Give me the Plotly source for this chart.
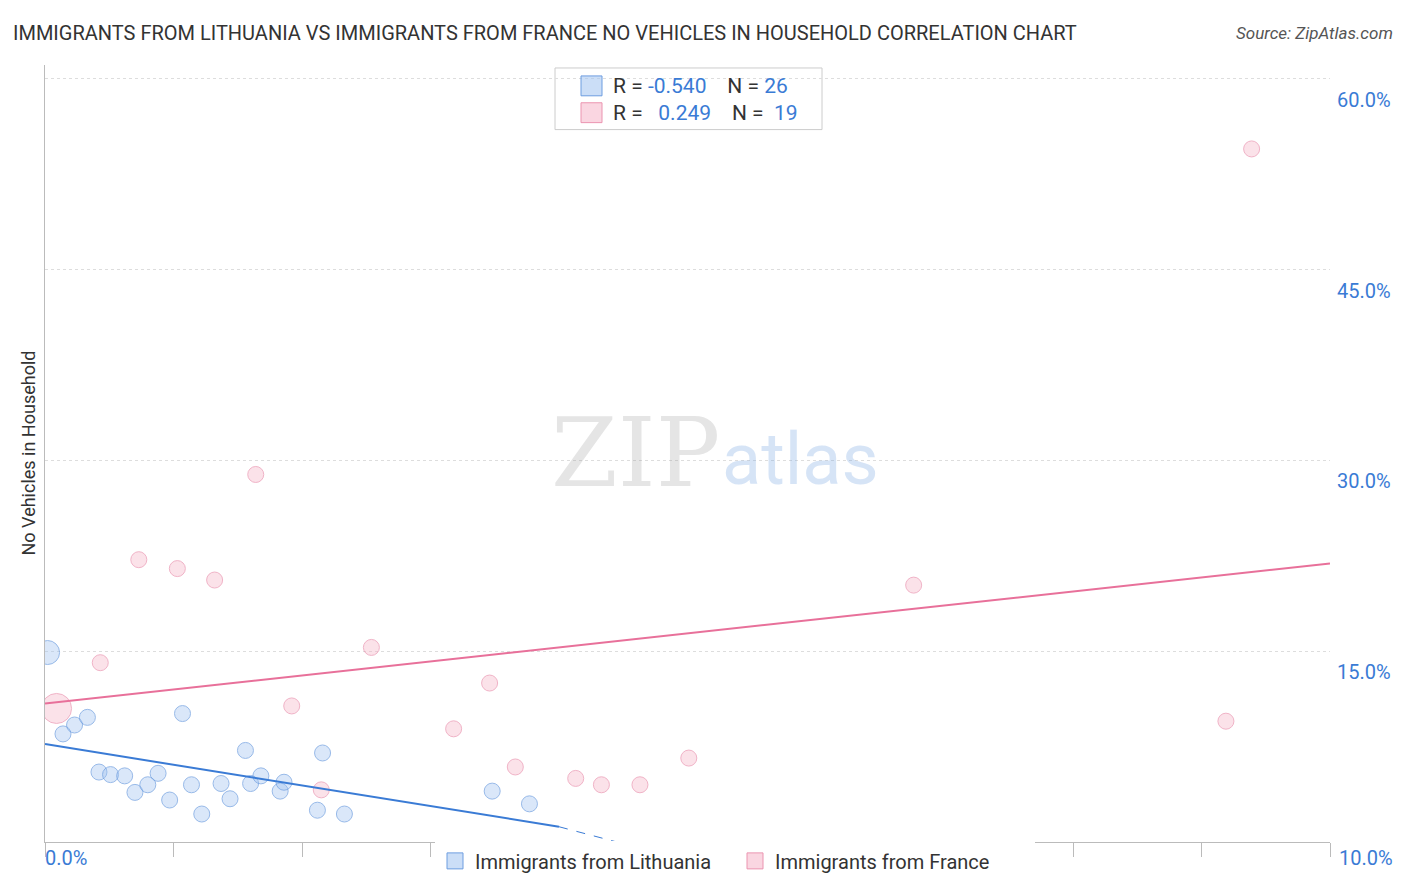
import plotly.graph_objects as go

# Immigrants from Lithuania (x: %, y: %)
lith_x = [0.02, 0.14, 0.23, 0.33, 0.42, 0.51, 0.62, 0.70, 0.80, 0.88, 0.97, 1.07, 1.14,
          1.22, 1.37, 1.44, 1.56, 1.60, 1.68, 1.83, 1.86, 2.12, 2.16, 2.33, 3.48, 3.77]
lith_y = [14.9, 8.5, 9.2, 9.8, 5.5, 5.3, 5.2, 3.9, 4.5, 5.4, 3.3, 10.1, 4.5,
          2.2, 4.6, 3.4, 7.2, 4.6, 5.2, 4.0, 4.7, 2.5, 7.0, 2.2, 4.0, 3.0]
lith_s = [24] + [16] * 25

# Immigrants from France
fr_x = [0.09, 0.43, 0.73, 1.03, 1.32, 1.64, 1.92, 2.15, 2.54, 3.18, 3.46, 3.66, 4.13,
        4.33, 4.63, 5.01, 6.76, 9.19, 9.39]
fr_y = [10.5, 14.1, 22.2, 21.5, 20.6, 28.9, 10.7, 4.1, 15.3, 8.9, 12.5, 5.9, 5.0,
        4.5, 4.5, 6.6, 20.2, 9.5, 54.5]
fr_s = [30] + [16] * 18

# trend lines
lith_line_x = [0.0, 4.0]
lith_line_y = [7.7, 1.2]
lith_dash_x = [4.0, 4.45]
lith_dash_y = [1.2, 0.0]
fr_line_x = [0.0, 10.0]
fr_line_y = [10.9, 21.9]

y_ticks = [15, 30, 45, 60]

BLUE = "#3a7bd5"
PINK = "#e8709a"
B_FILL, B_LINE = "rgba(160,195,240,0.55)", "#6d9de0"
P_FILL, P_LINE = "rgba(246,180,200,0.55)", "#eb94b0"

# plot area in page pixels (page has 8px body margin)
PX0, PX1, PY0, PY1 = 45, 1330, 65, 847


def px(x):
    return (x - PX0) / (PX1 - PX0)


def py(y):
    return (PY1 - y) / (PY1 - PY0)


fig = go.Figure()
fig.add_trace(go.Scatter(x=lith_x, y=lith_y, mode="markers", showlegend=False,
                         marker=dict(size=lith_s, color=B_FILL, line=dict(color=B_LINE, width=1))))
fig.add_trace(go.Scatter(x=fr_x, y=fr_y, mode="markers", showlegend=False,
                         marker=dict(size=fr_s, color=P_FILL, line=dict(color=P_LINE, width=1))))
fig.add_trace(go.Scatter(x=lith_line_x, y=lith_line_y, mode="lines", showlegend=False,
                         line=dict(color=BLUE, width=2)))
fig.add_trace(go.Scatter(x=lith_dash_x, y=lith_dash_y, mode="lines", showlegend=False,
                         line=dict(color=BLUE, width=1, dash="dash")))
fig.add_trace(go.Scatter(x=fr_line_x, y=fr_line_y, mode="lines", showlegend=False,
                         line=dict(color=PINK, width=2)))
# legend entries with square swatches
fig.add_trace(go.Scatter(x=[None], y=[None], mode="markers", name="Immigrants from Lithuania",
                         marker=dict(symbol="square", size=20, color=B_FILL, line=dict(color=B_LINE, width=1))))
fig.add_trace(go.Scatter(x=[None], y=[None], mode="markers", name="Immigrants from France",
                         marker=dict(symbol="square", size=20, color=P_FILL, line=dict(color=P_LINE, width=1))))

anns = []
for t in y_ticks:
    anns.append(dict(x=px(1393), xref="paper", xanchor="right", y=t, yref="y",
                     yanchor="top", yshift=-7, text=f"{t:.1f}%", showarrow=False,
                     font=dict(size=20, color=BLUE)))


def pix_ann(x, y, text, size, color, xanchor="left", **kw):
    anns.append(dict(x=px(x), y=py(y), xref="paper", yref="paper", xanchor=xanchor,
                     yanchor="middle", text=text, showarrow=False,
                     font=dict(size=size, color=color, **kw)))


pix_ann(43, 863, "0.0%", 20, BLUE)
pix_ann(1395, 863, "10.0%", 20, BLUE, xanchor="right")
pix_ann(11, 33, "IMMIGRANTS FROM LITHUANIA VS IMMIGRANTS FROM FRANCE NO VEHICLES IN HOUSEHOLD CORRELATION CHART",
        20, "#333333")
pix_ann(1395, 33, "<i>Source: ZipAtlas.com</i>", 17, "#555555", xanchor="right")
pix_ann(635, 455, "ZIP", 96, "rgba(150,150,150,0.25)", xanchor="center", family="DejaVu Serif")
pix_ann(800, 462, "atlas", 72, "rgba(120,165,225,0.3)", xanchor="center")
pix_ann(611, 86, "R = <span style='color:#3a7bd5'>-0.540</span>    N = <span style='color:#3a7bd5'>26</span>",
        21, "#333333")
pix_ann(611, 113, "R =   <span style='color:#3a7bd5'>0.249</span>    N =  <span style='color:#3a7bd5'>19</span>",
        21, "#333333")
pix_ann(28, 456, "No Vehicles in Household", 18, "#333333", xanchor="center")
anns[-1]["textangle"] = -90

fig.update_layout(
    width=1398, height=884, plot_bgcolor="white", paper_bgcolor="white",
    margin=dict(l=37, r=76, t=57, b=37),
    font=dict(family="Roboto, sans-serif"),
    annotations=anns,
    showlegend=True,
    legend=dict(orientation="h", x=px(435), xanchor="left", y=py(866), yanchor="middle",
                font=dict(size=20, color="#333333"), itemsizing="trace",
                entrywidth=255, entrywidthmode="pixels"),
    shapes=[
        dict(type="rect", xref="paper", yref="paper", x0=px(555), x1=px(822),
             y0=py(130), y1=py(68), line=dict(color="#cccccc", width=1),
             fillcolor="white", layer="below"),
        dict(type="rect", xref="paper", yref="paper", x0=px(581), x1=px(602),
             y0=py(96), y1=py(76), line=dict(color=B_LINE, width=1), fillcolor=B_FILL),
        dict(type="rect", xref="paper", yref="paper", x0=px(581), x1=px(602),
             y0=py(123), y1=py(103), line=dict(color=P_LINE, width=1), fillcolor=P_FILL),
    ],
)
fig.update_xaxes(range=[0, 10], showgrid=False, zeroline=False, showticklabels=False,
                 ticks="outside", tickvals=list(range(0, 11)), ticklen=14,
                 tickcolor="#bbbbbb", showline=True, linecolor="#bbbbbb")
fig.update_yaxes(range=[0, 61.1], tickvals=y_ticks, showticklabels=False, zeroline=False,
                 gridcolor="#dddddd", griddash="dot", showline=True, linecolor="#bbbbbb")

fig.write_html("out.html")
